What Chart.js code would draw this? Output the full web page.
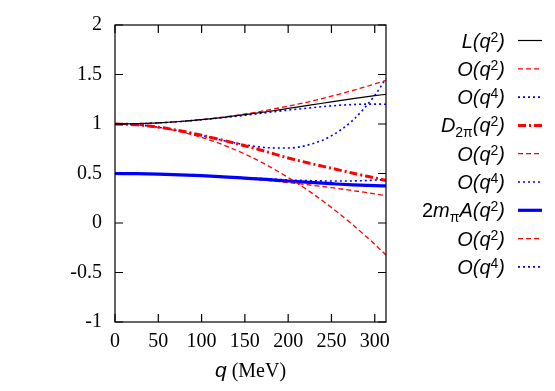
<!DOCTYPE html>
<html>
<head>
<meta charset="utf-8">
<script src="https://cdn.jsdelivr.net/npm/chart.js@4/dist/chart.umd.min.js"></script>
<style>
  html, body { margin: 0; padding: 0; background: #fff; }
  #wrap { width: 555px; height: 391px; }
</style>
</head>
<body>
<div id="wrap"><canvas id="chart"></canvas></div>
<script>
// momentum q (MeV)
const qValues = [0, 25, 50, 75, 100, 125, 150, 175, 200, 225, 250, 275, 300, 313];

// L(q^2) and its expansions
const lFull = [1, 1.003, 1.011, 1.025, 1.0435, 1.0665, 1.094, 1.124, 1.157, 1.19, 1.224, 1.257, 1.286, 1.30];
const lOrder2 = [1, 1.003, 1.011, 1.025, 1.045, 1.07, 1.101, 1.138, 1.18, 1.227, 1.281, 1.34, 1.404, 1.44];
const lOrder4 = [1, 1.003, 1.011, 1.0245, 1.0425, 1.064, 1.088, 1.115, 1.14, 1.163, 1.183, 1.197, 1.201, 1.2];

// D_2pi(q^2) and its expansions
const dFull = [1, 0.992, 0.968, 0.931, 0.886, 0.835, 0.78, 0.72, 0.657, 0.603, 0.553, 0.503, 0.455, 0.43];
const dOrder2 = [1, 0.9916, 0.966, 0.924, 0.865, 0.789, 0.696, 0.587, 0.46, 0.317, 0.156, -0.021, -0.215, -0.323];
const dOrder4 = [1, 0.9917, 0.967, 0.93, 0.884, 0.834, 0.79, 0.761, 0.757, 0.793, 0.881, 1.041, 1.289, 1.459];

// 2 m_pi A(q^2) and its expansions
const aFull = [0.5, 0.4986, 0.494, 0.487, 0.478, 0.466, 0.453, 0.44, 0.424, 0.41, 0.397, 0.385, 0.377, 0.374];
const aOrder2 = [0.5, 0.4986, 0.494, 0.487, 0.477, 0.464, 0.448, 0.43, 0.408, 0.384, 0.357, 0.327, 0.294, 0.276];
const aOrder4 = [0.5, 0.4986, 0.494, 0.488, 0.479, 0.468, 0.457, 0.446, 0.435, 0.428, 0.424, 0.425, 0.433, 0.44];

const xTicks = [0, 50, 100, 150, 200, 250, 300];
const yTicks = [-1, -0.5, 0, 0.5, 1, 1.5, 2];

// legend texts: [text, style] pieces, style: n = italic, u = upright, sup, sub
const legendTexts = [
  [["L(q", "n"], ["2", "sup"], [")", "n"]],
  [["O(q", "n"], ["2", "sup"], [")", "n"]],
  [["O(q", "n"], ["4", "sup"], [")", "n"]],
  [["D", "n"], ["2π", "sub"], ["(q", "n"], ["2", "sup"], [")", "n"]],
  [["O(q", "n"], ["2", "sup"], [")", "n"]],
  [["O(q", "n"], ["4", "sup"], [")", "n"]],
  [["2", "u"], ["m", "n"], ["π", "sub"], ["A(q", "n"], ["2", "sup"], [")", "n"]],
  [["O(q", "n"], ["2", "sup"], [")", "n"]],
  [["O(q", "n"], ["4", "sup"], [")", "n"]],
];

const RED = "#ff0000";
const BLUE = "#0000ff";
const solid = [];
const dashed = [5, 3];
const dotted = [2, 3];
const dashDot = [8, 3, 2, 3];

function pts(arr) {
  return qValues.map((q, i) => ({ x: q, y: arr[i] }));
}

function line(data, color, width, dash) {
  return {
    data: pts(data),
    borderColor: color,
    borderWidth: width,
    borderDash: dash,
    pointRadius: 0,
    fill: false,
    cubicInterpolationMode: "monotone",
  };
}

const datasets = [
  line(lFull, "#000000", 1.2, solid),
  line(lOrder2, RED, 1.3, dashed),
  line(lOrder4, BLUE, 1.6, dotted),
  line(dFull, RED, 3, dashDot),
  line(dOrder2, RED, 1.3, dashed),
  line(dOrder4, BLUE, 1.6, dotted),
  line(aFull, BLUE, 3.2, solid),
  line(aOrder2, RED, 1.3, dashed),
  line(aOrder4, BLUE, 1.6, dotted),
];

const SANS = "'Liberation Sans', Arial, sans-serif";
const SERIF = "'Liberation Serif', 'Times New Roman', serif";

function pieceFont(style) {
  if (style === "sup" || style === "sub") return "14px " + SANS;
  if (style === "u") return "20px " + SANS;
  return "italic 20px " + SANS;
}

function drawRich(ctx, pieces, xRight, yMid) {
  let total = 0;
  pieces.forEach(([t, s]) => {
    ctx.font = pieceFont(s);
    total += ctx.measureText(t).width;
  });
  let x = xRight - total;
  ctx.textAlign = "left";
  ctx.textBaseline = "alphabetic";
  pieces.forEach(([t, s]) => {
    ctx.font = pieceFont(s);
    let y = yMid + 7;
    if (s === "sup") y = yMid + 1;
    if (s === "sub") y = yMid + 12;
    ctx.fillText(t, x, y);
    x += ctx.measureText(t).width;
  });
}

const framePlugin = {
  id: "frame",
  afterDraw(chart) {
    const ctx = chart.ctx;
    const a = chart.chartArea;
    const xs = chart.scales.x;
    const ys = chart.scales.y;
    ctx.save();
    ctx.strokeStyle = "#000";
    ctx.lineWidth = 1.2;
    ctx.setLineDash([]);
    ctx.strokeRect(a.left, a.top, a.right - a.left, a.bottom - a.top);
    const tl = 8;
    ctx.beginPath();
    xTicks.forEach((v) => {
      const px = xs.getPixelForValue(v);
      ctx.moveTo(px, a.bottom);
      ctx.lineTo(px, a.bottom - tl);
      ctx.moveTo(px, a.top);
      ctx.lineTo(px, a.top + tl);
    });
    yTicks.forEach((v) => {
      const py = ys.getPixelForValue(v);
      ctx.moveTo(a.left, py);
      ctx.lineTo(a.left + tl, py);
      ctx.moveTo(a.right, py);
      ctx.lineTo(a.right - tl, py);
    });
    ctx.stroke();

    // x axis title: italic q, upright (MeV)
    ctx.fillStyle = "#000";
    ctx.textBaseline = "alphabetic";
    ctx.textAlign = "left";
    ctx.font = "italic 21px " + SANS;
    const qw = ctx.measureText("q").width;
    ctx.font = "20px " + SERIF;
    const mw = ctx.measureText(" (MeV)").width;
    let tx = (a.left + a.right) / 2 - (qw + mw) / 2;
    ctx.font = "italic 21px " + SANS;
    ctx.fillText("q", tx, 377);
    ctx.font = "20px " + SERIF;
    ctx.fillText(" (MeV)", tx + qw, 377);

    // legend on the right
    const x0 = 518, x1 = 542, textRight = 505;
    chart.data.datasets.forEach((ds, i) => {
      const y = 40.5 + i * 28.3;
      drawRich(ctx, legendTexts[i], textRight, y);
      ctx.beginPath();
      ctx.strokeStyle = ds.borderColor;
      ctx.lineWidth = ds.borderWidth;
      ctx.setLineDash(ds.borderDash);
      ctx.moveTo(x0, y);
      ctx.lineTo(x1, y);
      ctx.stroke();
    });
    ctx.restore();
  },
};

new Chart(document.getElementById("chart"), {
  type: "line",
  data: { datasets: datasets },
  options: {
    responsive: true,
    maintainAspectRatio: false,
    animation: false,
    layout: {
      padding: { top: 25, right: 169, left: 0, bottom: 0 },
    },
    plugins: {
      legend: { display: false },
      tooltip: { enabled: false },
    },
    scales: {
      x: {
        type: "linear",
        min: 0,
        max: 313,
        afterFit: (s) => { s.height = 69; },
        afterBuildTicks: (s) => { s.ticks = xTicks.map((v) => ({ value: v })); },
        grid: { display: false, drawTicks: false },
        border: { display: false },
        ticks: {
          color: "#000",
          font: { family: SERIF, size: 20 },
          padding: 8,
          maxRotation: 0,
          callback: (v) => String(v),
        },
      },
      y: {
        type: "linear",
        min: -1,
        max: 2,
        afterFit: (s) => { s.width = 115; },
        afterBuildTicks: (s) => { s.ticks = yTicks.map((v) => ({ value: v })); },
        grid: { display: false, drawTicks: false },
        border: { display: false },
        ticks: {
          color: "#000",
          font: { family: SERIF, size: 20 },
          padding: 13,
          callback: (v) => String(v),
        },
      },
    },
  },
  plugins: [framePlugin],
});
</script>
</body>
</html>
